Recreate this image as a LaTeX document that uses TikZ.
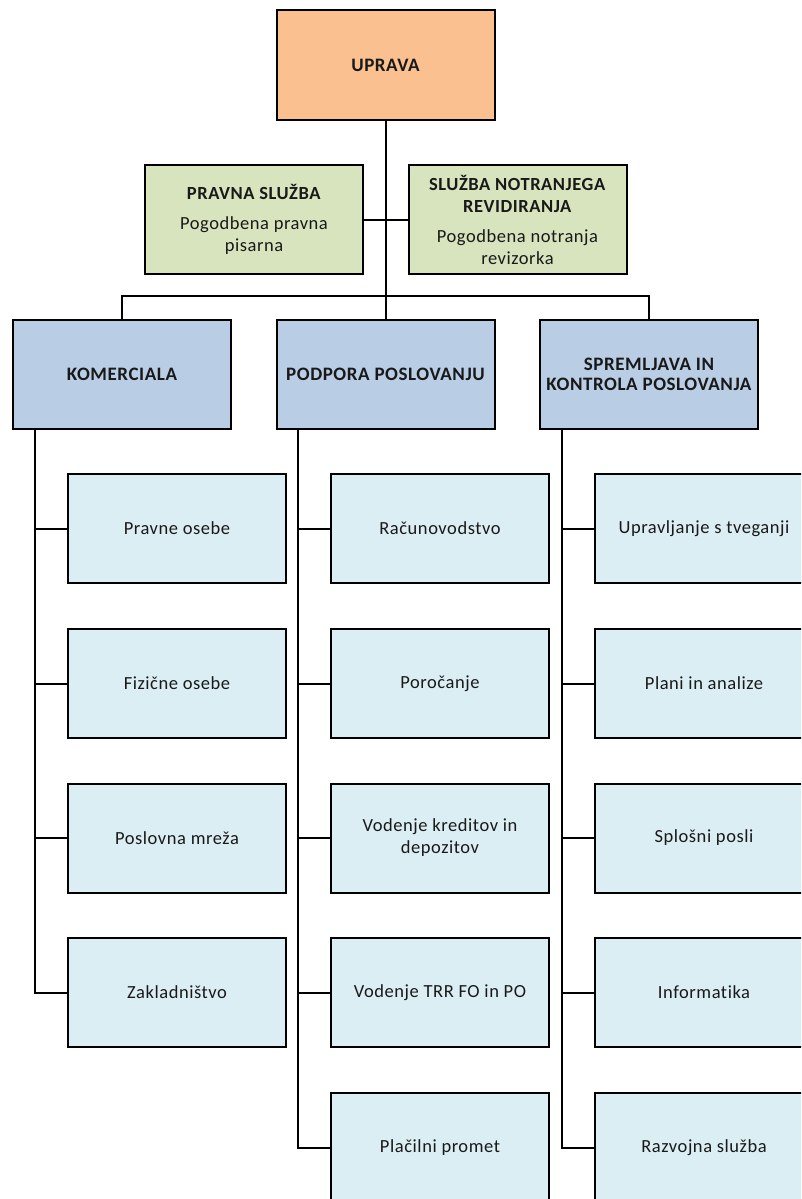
\documentclass[tikz,border=0pt]{standalone}
\usepackage{fontspec}
\setmainfont{Carlito}[Ligatures=NoCommon, LetterSpace=3]
\usepackage{tikz}
\usetikzlibrary{positioning}
\definecolor{upravaorange}{HTML}{FAC090}
\definecolor{sluzbagreen}{HTML}{D7E4BD}
\definecolor{sektorblue}{HTML}{B9CDE5}
\definecolor{oddelekblue}{HTML}{DBEEF4}
\tikzstyle{link} = [line width=2pt, line join=miter]

\begin{document}
\begin{tikzpicture}[x=1pt, y=-1pt]
                    \tikzstyle{every node}=[font=\fontsize{18.5}{22}\selectfont, text=black!90]
                    \tikzstyle{box} = [draw=black, line width=2pt, minimum width=218pt, minimum height=109pt, align=center, inner sep=0pt]
                    \tikzstyle{uprava} = [box, fill=upravaorange, font=\fontsize{19}{22}\selectfont\bfseries]
                    \tikzstyle{sluzba} = [box, fill=sluzbagreen]
                    \tikzstyle{sektor} = [box, fill=sektorblue, font=\fontsize{19}{20.5}\selectfont\bfseries]
                    \tikzstyle{oddelek} = [box, fill=oddelekblue]

                    \useasboundingbox (0,0) rectangle (801,1199);
                    \clip (0,0) rectangle (801,1199);

                    \node[uprava](upr) at (385.5,65) {UPRAVA};
                    \node[sluzba](prs) at (254,219.5) {\textbf{PRAVNA SLUŽBA}\\[8pt]Pogodbena pravna\\pisarna};
                    \node[sluzba](snr) at (517.5,219.5) {\textbf{SLUŽBA NOTRANJEGA}\\\textbf{REVIDIRANJA}\\[8pt]Pogodbena notranja\\revizorka};

                    \node[sektor](kom) at (122,374.5) {KOMERCIALA};
                    \node[sektor](pod) at (385.5,374.5) {PODPORA POSLOVANJU};
                    \node[sektor](spr) at (649,374.5) {SPREMLJAVA IN\\KONTROLA POSLOVANJA};

                    % komerciala
                    \node[oddelek](k1) at (177,528.5) {Pravne osebe};
                    \node[oddelek](k2) at (177,683.5) {Fizične osebe};
                    \node[oddelek](k3) at (177,838) {Poslovna mreža};
                    \node[oddelek](k4) at (177,992.5) {Zakladništvo};

                    % podpora poslovanju
                    \node[oddelek](p1) at (440,528.5) {Računovodstvo};
                    \node[oddelek](p2) at (440,683.5) {Poročanje};
                    \node[oddelek](p3) at (440,838) {Vodenje kreditov in\\depozitov};
                    \node[oddelek](p4) at (440,992.5) {Vodenje TRR FO in PO};
                    \node[oddelek](p5) at (440,1147.5) {Plačilni promet};

                    % spremljava in kontrola
                    \node[oddelek](s1) at (704,528.5) {Upravljanje s tveganji};
                    \node[oddelek](s2) at (704,683.5) {Plani in analize};
                    \node[oddelek](s3) at (704,838) {Splošni posli};
                    \node[oddelek](s4) at (704,992.5) {Informatika};
                    \node[oddelek](s5) at (704,1147.5) {Razvojna služba};

                    % upper lines
                    \coordinate (bus) at (385.5,296);
                    \draw[link] (upr.south) -- (bus) -- (pod.north);
                    \draw[link] (kom.north) |- (bus) -| (spr.north);
                    \draw[link] (prs.east) -- (snr.west);

                    % spines
                    \coordinate (ks) at ([xshift=23pt]kom.south west);
                    \coordinate (ps) at ([xshift=22pt]pod.south west);
                    \coordinate (ss) at ([xshift=23pt]spr.south west);
                    \draw[link] (ks) |- (k4.west);
                    \draw[link] (ps) |- (p5.west);
                    \draw[link] (ss) |- (s5.west);
                    \foreach \n in {k1,k2,k3} \draw[link] (\n.west) -- (\n.west -| ks);
                    \foreach \n in {p1,p2,p3,p4} \draw[link] (\n.west) -- (\n.west -| ps);
                    \foreach \n in {s1,s2,s3,s4} \draw[link] (\n.west) -- (\n.west -| ss);
\end{tikzpicture}
\end{document}
